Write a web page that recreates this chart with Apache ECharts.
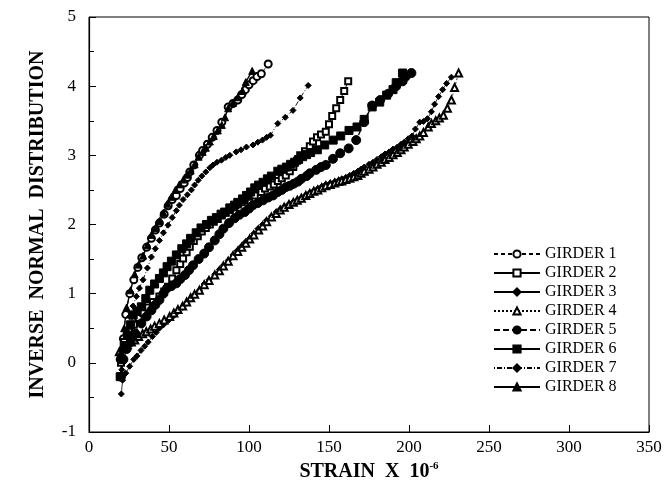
<!DOCTYPE html>
<html><head><meta charset="utf-8">
<script src="https://cdn.jsdelivr.net/npm/echarts@6/dist/echarts.min.js"></script>
<style>html,body{margin:0;padding:0;background:#fff}#c{width:671px;height:491px}</style>
</head><body><div id="c"></div>
<script>
const xTicks = [0, 50, 100, 150, 200, 250, 300, 350];
const yTicks = [-1, 0, 1, 2, 3, 4, 5];
const names = ['GIRDER 1','GIRDER 2','GIRDER 3','GIRDER 4','GIRDER 5','GIRDER 6','GIRDER 7','GIRDER 8'];

const girder1 = [[19.5,0.05],[21.5,0.35],[23,0.7],[25.5,1.0],[28,1.2],[30.5,1.38],[33,1.52],[36,1.67],[39,1.8],[41.5,1.92],[44,2.02],[47,2.15],[49.5,2.27],[52,2.36],[54.6,2.42],[57,2.52],[59.5,2.6],[61.5,2.68],[63,2.76],[65.5,2.86],[69,3.0],[71,3.07],[74,3.16],[77,3.26],[80,3.36],[83,3.48],[87,3.7],[90,3.75],[93,3.8],[95.5,3.88],[97.7,3.95],[100,4.02],[102.6,4.08],[105,4.14],[107.7,4.18],[112,4.32]];
const girder2 = [[20,0.0],[22,0.3],[25,0.45],[28,0.55],[31,0.65],[34,0.72],[37,0.8],[40,0.88],[44,0.96],[47,1.03],[49.4,1.1],[52,1.22],[54.6,1.34],[57,1.43],[58.8,1.51],[61,1.6],[63,1.68],[65.5,1.76],[68,1.83],[70.5,1.9],[73,1.95],[75.5,2.0],[78,2.04],[80.5,2.08],[83,2.13],[85.5,2.17],[88,2.21],[90.5,2.25],[93,2.29],[95.5,2.32],[97.3,2.35],[100,2.4],[103.6,2.42],[107.7,2.47],[110,2.52],[113,2.55],[115.5,2.58],[118,2.63],[120.5,2.67],[123,2.71],[125.5,2.77],[127.7,2.83],[130,2.92],[132,3.0],[135,3.06],[138,3.13],[140,3.2],[142.5,3.26],[145,3.3],[148,3.34],[150,3.45],[152,3.57],[154.5,3.68],[157,3.8],[159.5,3.93],[162,4.07]];
const girder3 = [[20.2,-0.45],[21,-0.25],[23,-0.15],[25.4,-0.05],[28,0.05],[30,0.1],[32.5,0.18],[34.8,0.24],[37,0.3],[39.6,0.38],[42,0.44],[44,0.5],[47,0.56],[50,0.62],[53,0.68],[55.6,0.74],[58.5,0.8],[61,0.86],[63.5,0.92],[66,0.98],[69,1.05],[72,1.14],[75,1.2],[78.6,1.28],[81.5,1.35],[84,1.41],[87,1.48],[90,1.56],[92.5,1.62],[95,1.68],[97.5,1.74],[100.4,1.8],[103,1.87],[105.6,1.94],[108.5,2.0],[110.9,2.06],[114,2.12],[117,2.18],[119.5,2.22],[122,2.26],[125,2.3],[127.7,2.33],[130.2,2.36],[132.7,2.39],[135.5,2.43],[138,2.46],[140.5,2.49],[143,2.52],[145.5,2.55],[148,2.58],[150.8,2.6],[153.6,2.62],[156,2.64],[158,2.66],[160.5,2.68],[163,2.71],[165.5,2.74],[168,2.77],[170,2.8],[172,2.83],[175,2.87],[177.5,2.9],[180,2.94],[182.7,2.98],[185,3.02],[187.6,3.05],[190,3.09],[192.7,3.12],[195,3.16],[197,3.19],[199.5,3.24],[202,3.28],[204,3.38],[206.7,3.48],[209,3.49],[211.5,3.53],[214,3.63],[216,3.74],[218.5,3.85],[221,3.95],[223.5,4.04],[226.5,4.13]];
const girder4 = [[19,0.16],[21.5,0.22],[24,0.26],[26.5,0.3],[28.6,0.33],[31,0.38],[33.5,0.42],[35.8,0.45],[38.5,0.49],[41,0.53],[44,0.57],[47,0.62],[50.4,0.67],[53,0.72],[55.6,0.77],[58.5,0.82],[61,0.88],[63.5,0.94],[66,0.99],[69,1.05],[72,1.13],[75,1.19],[78.6,1.27],[81.5,1.33],[84,1.4],[87,1.47],[90,1.55],[93,1.61],[95.5,1.67],[98,1.73],[100.4,1.79],[103,1.85],[106,1.92],[108.5,1.98],[111,2.04],[114,2.11],[117,2.16],[119.5,2.21],[122,2.25],[125,2.29],[127.7,2.32],[130.2,2.35],[132.7,2.38],[135.5,2.42],[138,2.45],[140.5,2.48],[143,2.5],[145.5,2.53],[148,2.56],[150.8,2.58],[153.6,2.6],[156,2.62],[158,2.63],[160.5,2.65],[163,2.67],[165.5,2.69],[168,2.71],[170,2.74],[172,2.77],[175,2.8],[177.5,2.83],[180,2.87],[182.7,2.9],[185,2.94],[187.6,2.97],[190,3.01],[192.7,3.04],[195,3.08],[197,3.12],[199.5,3.16],[202.5,3.2],[204.5,3.24],[206.7,3.28],[209,3.33],[212,3.41],[214,3.46],[216.7,3.5],[219,3.54],[221.5,3.58],[224,3.68],[226.5,3.8],[228.5,3.98],[231,4.19]];
const girder5 = [[20,-0.2],[21.5,0.05],[23.5,0.2],[26,0.3],[29,0.42],[32.7,0.57],[36,0.67],[39,0.76],[41.5,0.84],[44,0.91],[46.5,1.0],[48.8,1.08],[51.5,1.11],[54.6,1.15],[57,1.21],[60,1.27],[62.5,1.34],[65,1.41],[68.5,1.5],[72,1.58],[75,1.67],[78.6,1.77],[81.5,1.86],[84,1.94],[87.5,2.02],[91,2.09],[94,2.14],[97.3,2.18],[100,2.23],[102.5,2.28],[105.5,2.31],[108.8,2.35],[112,2.39],[115,2.42],[118,2.47],[120.5,2.5],[123,2.54],[125.5,2.56],[128,2.59],[130.6,2.62],[132.7,2.66],[136,2.7],[138,2.74],[142,2.79],[145,2.83],[148,2.86],[152.5,2.95],[157,3.03],[162.3,3.1],[167,3.22],[172,3.48],[177,3.72],[182,3.8],[187,3.89],[192,4.0],[196,4.07],[198,4.14],[201.5,4.19]];
const girder6 = [[19.5,-0.2],[20.5,0.05],[22,0.25],[24,0.4],[26,0.55],[27.6,0.69],[30,0.75],[32.7,0.81],[35.5,0.93],[38,1.05],[41,1.14],[44,1.22],[46.5,1.3],[48.8,1.39],[51.5,1.47],[54.6,1.56],[58,1.65],[61,1.72],[63.5,1.8],[67,1.88],[70,1.95],[73.4,2.0],[76.5,2.06],[79.6,2.1],[82.5,2.15],[84.8,2.18],[88,2.24],[91,2.28],[93,2.32],[96,2.37],[98.4,2.42],[101,2.47],[103.6,2.53],[106,2.57],[108.8,2.61],[111.5,2.66],[114,2.7],[118,2.77],[120.5,2.8],[123.4,2.83],[126,2.87],[128.5,2.9],[131,2.94],[133.5,2.98],[136,3.01],[138.5,3.04],[142.7,3.08],[147.3,3.15],[152.6,3.22],[157.3,3.28],[162.5,3.36],[167.5,3.41],[172,3.52],[177,3.7],[181.7,3.77],[186,3.87],[190,3.95],[192,4.05],[196,4.19]];
const girder7 = [[20.5,-0.1],[22,0.2],[24,0.45],[25.4,0.67],[27.5,0.82],[29.6,0.96],[31.5,1.08],[33.8,1.2],[36.5,1.37],[39,1.53],[41.5,1.65],[44,1.77],[46.5,1.88],[49.4,1.99],[52,2.1],[54.6,2.2],[56.5,2.28],[58.8,2.36],[61.5,2.43],[64,2.5],[66,2.57],[68.3,2.64],[70.5,2.7],[73,2.76],[75.5,2.82],[77.5,2.86],[80,2.9],[82.8,2.93],[85.5,2.97],[88,3.0],[92,3.05],[95,3.08],[98.4,3.12],[102.5,3.15],[105.5,3.19],[108.4,3.22],[111,3.26],[113.4,3.29],[118,3.46],[122.7,3.55],[127.5,3.65],[132,3.83],[137,4.01]];
const girder8 = [[20,0.15],[22,0.5],[23.5,0.8],[26,1.05],[28.5,1.28],[31,1.42],[33.8,1.55],[36.5,1.7],[39,1.85],[41.5,1.95],[44,2.05],[46.5,2.17],[49,2.3],[51.5,2.4],[54,2.5],[56.5,2.58],[59,2.65],[61.5,2.72],[63.5,2.78],[66,2.87],[68.5,2.98],[71,3.05],[73,3.11],[75.5,3.2],[78,3.28],[80.5,3.36],[83,3.44],[85,3.55],[87,3.68],[90,3.76],[93,3.84],[96,3.93],[98,4.06],[102,4.22]];

const data = [girder1, girder2, girder3, girder4, girder5, girder6, girder7, girder8];
const styles = [
  {symbol:'emptyCircle', size:7, line:[4,3], w:0.8},
  {symbol:'emptyRect', size:6, line:'solid', w:0.9},
  {symbol:'diamond', size:6, line:'solid', w:0.8},
  {symbol:'emptyTriangle', size:7, line:[2,2], w:0.8},
  {symbol:'circle', size:9, line:[6,3], w:1.3},
  {symbol:'rect', size:8, line:'solid', w:1.3},
  {symbol:'diamond', size:6, line:[1,2,5,2], w:0.9},
  {symbol:'triangle', size:7, line:'solid', w:1.4}
];
const font = 'Liberation Serif, Times New Roman, serif';
const chart = echarts.init(document.getElementById('c'), null, {renderer:'canvas'});
chart.setOption({
  animation: false,
  backgroundColor: '#fff',
  grid: {left: 89, right: 22, top: 17, bottom: 59, show: true, borderColor: '#000', borderWidth: 1},
  xAxis: {
    type: 'value', min: xTicks[0], max: xTicks[xTicks.length-1], interval: 50,
    axisLine: {show: true, onZero: false, lineStyle: {color: '#000', width: 1.2}},
    axisTick: {show: true, inside: true, length: 7, lineStyle: {color: '#000'}},
    splitLine: {show: false},
    axisLabel: {color: '#000', fontFamily: font, fontSize: 17, margin: 7},
    name: 'STRAIN  X  10{s|-6}', nameLocation: 'middle', nameGap: 27,
    nameTextStyle: {color: '#000', fontFamily: font, fontSize: 20, fontWeight: 'bold',
      rich: {s: {fontSize: 11, fontFamily: font, fontWeight: 'bold', verticalAlign: 'top', padding: [0,0,10,0]}}}
  },
  yAxis: {
    type: 'value', min: yTicks[0], max: yTicks[yTicks.length-1], interval: 1,
    axisLine: {show: true, onZero: false, lineStyle: {color: '#000', width: 1.2}},
    axisTick: {show: true, inside: true, length: 7, lineStyle: {color: '#000'}},
    minorTick: {show: true, splitNumber: 2, length: 5, lineStyle: {color: '#000'}},
    splitLine: {show: false},
    axisLabel: {color: '#000', fontFamily: font, fontSize: 17, margin: 13},
    name: 'INVERSE  NORMAL  DISTRIBUTION', nameLocation: 'middle', nameGap: 41, nameRotate: 90,
    nameTextStyle: {color: '#000', fontFamily: font, fontSize: 20, fontWeight: 'bold'}
  },
  legend: {
    orient: 'vertical', left: 488, top: 241, itemWidth: 46, itemHeight: 9, itemGap: 3,
    textStyle: {color: '#000', fontFamily: font, fontSize: 16},
    data: names
  },
  series: data.map((d, i) => ({
    name: names[i], type: 'line', data: d,
    symbol: styles[i].symbol, symbolSize: styles[i].size,
    itemStyle: {color: '#000', borderColor: '#000', borderWidth: 1},
    lineStyle: {color: '#000', width: styles[i].w, type: styles[i].line},
    emphasis: {disabled: true}
  }))
});
</script></body></html>
